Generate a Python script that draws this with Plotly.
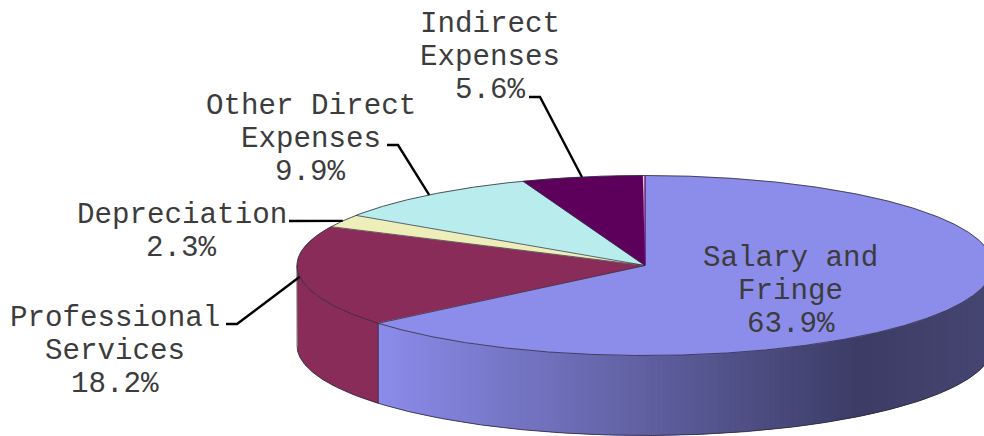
import numpy as np
import plotly.graph_objects as go

categories = ["Salary and Fringe", "Professional Services", "Depreciation", "Other Direct Expenses", "Indirect Expenses"]
values = [63.9, 18.2, 2.3, 9.9, 5.6]
value_labels = ["63.9%", "18.2%", "2.3%", "9.9%", "5.6%"]
label_lines = [["Salary and", "Fringe"], ["Professional", "Services"], ["Depreciation"], ["Other Direct", "Expenses"], ["Indirect", "Expenses"]]

colors = ["#8C8CEB", "#8A2C5A", "#EEEEBB", "#B9ECEC", "#5C005C"]
side_dark = (0x3C, 0x3C, 0x66)
side_light = (0x8C, 0x8C, 0xEB)
side_end = (0x46, 0x46, 0x72)
EDGE = "#2A2A3A"
TEXT = "#3C3C3C"
FONT = "Liberation Mono"

# Geometry in page pixels (axes run 0-984, 436-0)
CX, CY, RX, RY, DEPTH = 645, 265.5, 348, 90, 80


def px(deg):
    r = np.radians(deg)
    return CX + RX * np.sin(r), CY - RY * np.cos(r)


def arc(a, b, step=0.25):
    n = max(2, int(abs(b - a) / step) + 1)
    return px(np.linspace(a, b, n))


def grad(x):
    if x <= 860:
        t = max(0, (x - 378) / (860 - 378))
        c = [side_light[i] + (side_dark[i] - side_light[i]) * t for i in range(3)]
    else:
        t = (x - 860) / (984 - 860)
        c = [side_dark[i] + (side_end[i] - side_dark[i]) * t for i in range(3)]
    return "rgb(%d,%d,%d)" % tuple(c)


fig = go.Figure()
angles = np.concatenate([[0], np.cumsum(values) * 3.6])


def poly(x, y, fill, line, width):
    fig.add_trace(go.Scatter(x=x, y=y, mode="lines", fill="toself", fillcolor=fill,
                             line=dict(color=line, width=width), hoverinfo="skip", showlegend=False))


def stroke(x, y, color, width):
    fig.add_trace(go.Scatter(x=x, y=y, mode="lines", line=dict(color=color, width=width),
                             hoverinfo="skip", showlegend=False))


# Side wall, Salary slice: overlapping gradient strips, right edge round to the slice end
edges = np.arange(90, angles[1], 1.0).tolist() + [angles[1]]
for a, b in zip(edges[:-1], edges[1:]):
    xa, ya = arc(a, min(b + 1.0, angles[1]))
    c = grad(px((a + b) / 2)[0])
    poly(np.r_[xa, xa[::-1]], np.r_[ya, ya[::-1] + DEPTH], c, c, 0)

# Side wall, Professional slice
xa, ya = arc(angles[1], 270)
poly(np.r_[xa, xa[::-1]], np.r_[ya, ya[::-1] + DEPTH], colors[1], colors[1], 0.5)

# Side outlines
xa, ya = arc(90, 270)
stroke(xa, ya + DEPTH, EDGE, 0.8)
xe, ye = px(angles[1])
stroke([xe, xe], [ye, ye + DEPTH], EDGE, 0.8)
xe, ye = px(270)
stroke([xe, xe], [ye, ye + DEPTH], "#555555", 0.8)

# Top slices: fills first, then the rim and the radial edges
for i in range(len(values)):
    xa, ya = arc(angles[i], angles[i + 1])
    poly(np.r_[CX, xa, CX], np.r_[CY, ya, CY], colors[i], colors[i], 0.5)
xe, ye = px(0)
stroke([CX, xe], [CY, ye], colors[4], 1.2)
xa, ya = arc(0, 360)
stroke(xa, ya, EDGE, 0.8)
for a in angles[1:-1]:
    xe, ye = px(a)
    stroke([CX, xe], [CY, ye], EDGE, 0.7)

# Leader lines, anchored at each slice's mid angle
leaders = {1: [(226, 324), (237, 324)], 2: [(289, 221)], 3: [(387, 145), (398, 145)], 4: [(529, 97), (540, 97)]}
for i, pts in leaders.items():
    xm, ym = px((angles[i] + angles[i + 1]) / 2)
    stroke([p[0] for p in pts] + [float(xm)], [p[1] for p in pts] + [float(ym)], "#000000", 2.4)

# Labels: one annotation per line for the reference's tight line spacing
label_pos = [(790.5, 258), (114.5, 318), (181.5, 215), (310.5, 106), (490, 24)]
LINE = 33
for i, (cx, y0) in enumerate(label_pos):
    for j, s in enumerate(label_lines[i] + [value_labels[i]]):
        fig.add_annotation(x=cx, y=y0 + j * LINE, text=s, showarrow=False, xanchor="center", yanchor="middle",
                           font=dict(family=FONT, size=29.2, color=TEXT))

axis = dict(visible=False, fixedrange=True)
fig.update_layout(width=984, height=436, margin=dict(l=0, r=0, t=0, b=0), paper_bgcolor="white",
                  plot_bgcolor="white", showlegend=False,
                  xaxis=dict(range=[0, 984], **axis), yaxis=dict(range=[436, 0], **axis))
fig.write_html("out.html", config={"displayModeBar": False},
               post_script="document.body.style.margin='0';document.body.style.overflow='hidden';")
